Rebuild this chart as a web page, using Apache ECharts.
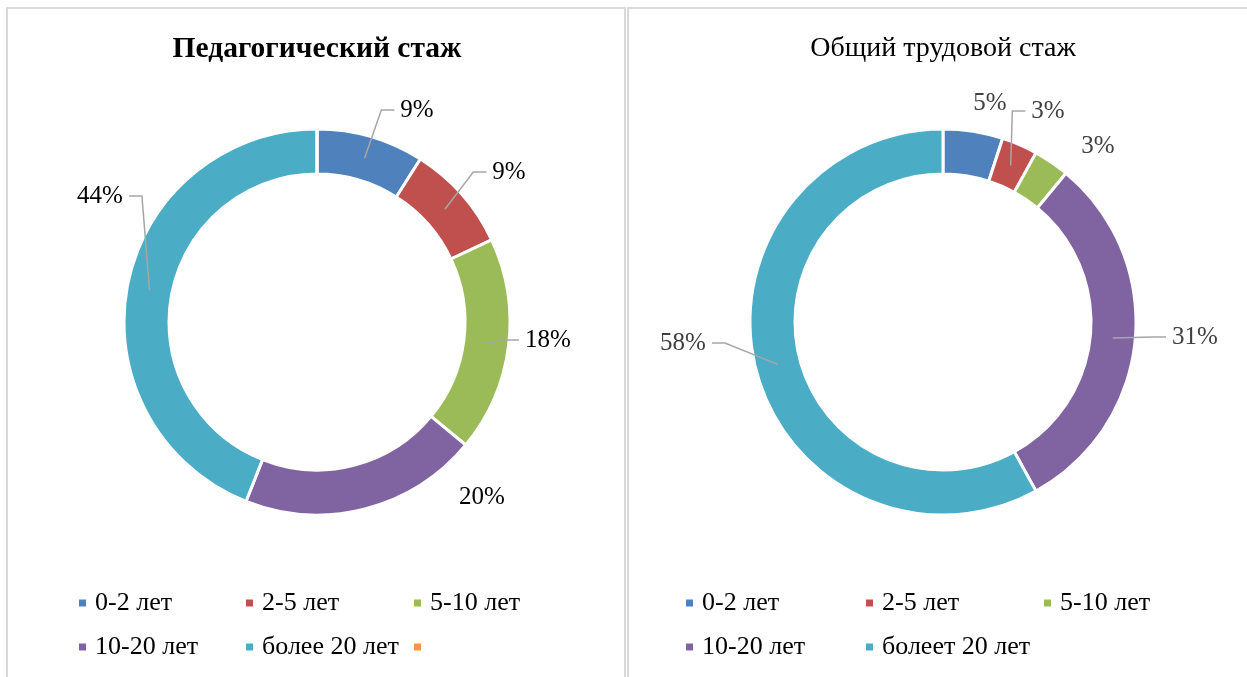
<!DOCTYPE html>
<html>
<head>
<meta charset="utf-8">
<script src="https://cdn.jsdelivr.net/npm/echarts@6/dist/echarts.min.js"></script>
<style>
html,body{margin:0;padding:0;background:#fff;}
#chart{width:1247px;height:677px;}
</style>
</head>
<body>
<div id="chart"></div>
<script>
// ---- data ----
const leftTitle = 'Педагогический стаж';
const rightTitle = 'Общий трудовой стаж';
const leftCategories = ['0-2 лет', '2-5 лет', '5-10 лет', '10-20 лет', 'более 20 лет', ' ']; // last category is blank in the source
const leftValues = [9, 9, 18, 20, 44, 0];
const rightCategories = ['0-2 лет', '2-5 лет', '5-10 лет', '10-20 лет', 'болеет 20 лет'];
const rightValues = [5, 3, 3, 31, 58];

// ---- style / layout ----
const palette = ['#4F81BD', '#C0504D', '#9BBB59', '#8064A2', '#4BACC6', '#F79646'];
const FONT = 'Liberation Serif, Times New Roman, serif';
const leftCenter = [317, 322];
const rightCenter = [943, 322];
const radii = [148, 193];
const leftLabelOffsets = [[100, -212], [192, -150], [231, 18], [165, 175], [-217, -126], null];
const rightLabelOffsets = [[47, -219], [105, -211], [155, -176], [252, 15], [-260, 21]];
const leftLineFlags = [1, 1, 1, 0, 1, 0];
const rightLineFlags = [0, 1, 0, 1, 1];
const leftLegendPos = [[77, 603], [244, 603], [412, 603], [77, 647], [244, 647], [412, 647]];
const rightLegendPos = [[684, 603], [864, 603], [1042, 603], [684, 647], [864, 647]];

function makeLayout(center, values, offsets) {
  const total = values.reduce((a, b) => a + b, 0);
  const rMid = (radii[0] + radii[1]) / 2;
  return function (params) {
    const i = params.dataIndex;
    const off = offsets[i];
    if (!off) return {};
    const lx = center[0] + off[0], ly = center[1] + off[1];
    let cum = 0;
    for (let k = 0; k < i; k++) cum += values[k];
    cum += values[i] / 2;
    const a = cum / total * Math.PI * 2;
    const ax = center[0] + rMid * Math.sin(a);
    const ay = center[1] - rMid * Math.cos(a);
    const w = params.labelRect.width;
    const right = lx > ax;
    const edge = right ? lx - w / 2 - 6 : lx + w / 2 + 6;
    const bend = right ? edge - 13 : edge + 13;
    return {
      x: lx, y: ly, align: 'center', verticalAlign: 'middle',
      labelLinePoints: [[ax, ay], [bend, ly], [edge, ly]]
    };
  };
}

// coloured ring (no labels)
function ringSeries(center, cats, vals) {
  return {
    type: 'pie', z: 2,
    center: center, radius: radii,
    startAngle: 90, clockwise: true,
    animation: false, silent: true,
    emphasis: { disabled: true },
    itemStyle: { borderColor: '#ffffff', borderWidth: 3 },
    label: { show: false }, labelLine: { show: false },
    data: vals.map((v, i) => ({ name: cats[i], value: v, itemStyle: { color: palette[i] } }))
  };
}

// transparent overlay carrying the data labels and leader lines above the ring
function labelSeries(center, cats, vals, flags, offsets, labelColor) {
  return {
    type: 'pie', z: 5,
    center: center, radius: radii,
    startAngle: 90, clockwise: true,
    avoidLabelOverlap: false,
    animation: false, silent: true,
    emphasis: { disabled: true },
    itemStyle: { color: 'rgba(0,0,0,0)', borderWidth: 0 },
    label: {
      position: 'outside', formatter: '{c}%',
      fontFamily: FONT, fontSize: 25, color: labelColor
    },
    labelLine: { show: true, lineStyle: { color: '#a6a6a6', width: 1.5 } },
    labelLayout: makeLayout(center, vals, offsets),
    data: vals.map((v, i) => ({
      name: cats[i], value: v,
      label: { show: v > 0 },
      labelLine: { show: !!flags[i] }
    }))
  };
}

function legends(cats, pos, color) {
  return cats.map((c, i) => ({
    data: [{ name: c, itemStyle: { color: palette[i] } }],
    left: pos[i][0],
    top: pos[i][1] - 15,
    padding: 0,
    icon: 'rect',
    itemWidth: 9,
    itemHeight: 9,
    selectedMode: false,
    textStyle: { fontFamily: FONT, fontSize: 26, color: color, lineHeight: 30, padding: [0, 0, 0, 3] }
  }));
}

const chart = echarts.init(document.getElementById('chart'), null, { renderer: 'canvas' });
chart.setOption({
  color: palette,
  animation: false,
  title: [
    { text: leftTitle, left: leftCenter[0], top: 34, padding: 0, textAlign: 'center',
      textStyle: { fontFamily: FONT, fontSize: 29.5, fontWeight: 'bold', color: '#000' } },
    { text: rightTitle, left: rightCenter[0], top: 35, padding: 0, textAlign: 'center',
      textStyle: { fontFamily: FONT, fontSize: 28, fontWeight: 'normal', color: '#000' } }
  ],
  legend: legends(leftCategories, leftLegendPos, '#000').concat(legends(rightCategories, rightLegendPos, '#000')),
  graphic: [
    { type: 'rect', z: -1, shape: { x: 7, y: 8, width: 618, height: 720 }, style: { fill: 'none', stroke: '#d9d9d9', lineWidth: 2 } },
    { type: 'rect', z: -1, shape: { x: 628, y: 8, width: 660, height: 720 }, style: { fill: 'none', stroke: '#d9d9d9', lineWidth: 2 } }
  ],
  series: [
    ringSeries(leftCenter, leftCategories, leftValues),
    ringSeries(rightCenter, rightCategories, rightValues),
    labelSeries(leftCenter, leftCategories, leftValues, leftLineFlags, leftLabelOffsets, '#000'),
    labelSeries(rightCenter, rightCategories, rightValues, rightLineFlags, rightLabelOffsets, '#404040')
  ]
});
</script>
</body>
</html>
